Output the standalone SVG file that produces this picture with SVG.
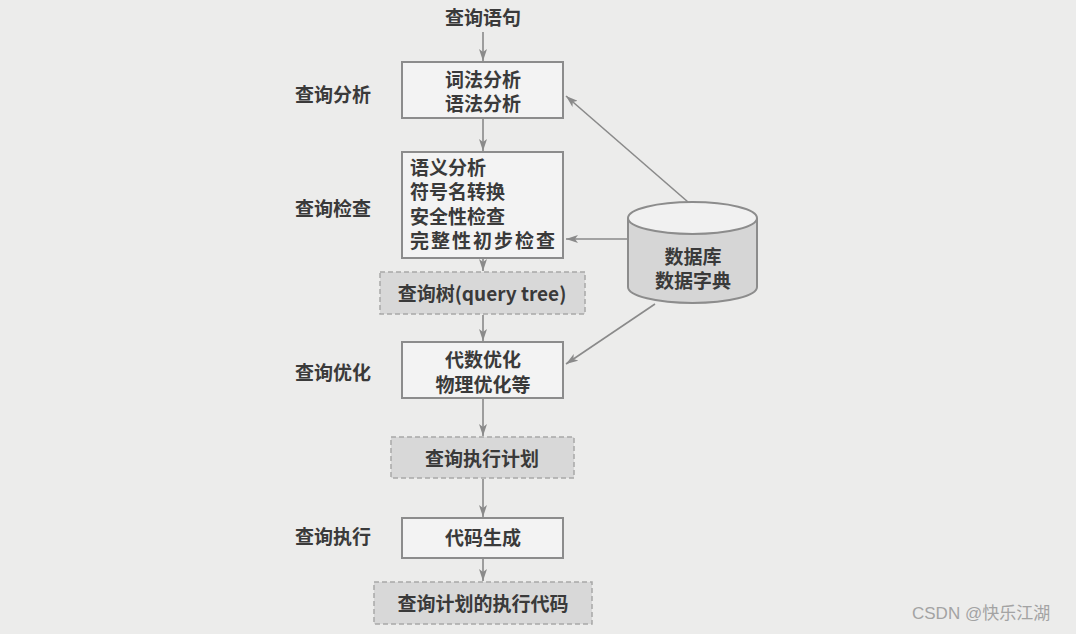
<svg xmlns="http://www.w3.org/2000/svg" width="1076" height="634" viewBox="0 0 1076 634">
<defs>
<style>
.t{font-family:"Noto Sans CJK SC","Noto Sans",sans-serif;font-size:19px;font-weight:700;fill:#3a3a3a}
.m{font-family:"Liberation Sans","Noto Sans CJK SC",sans-serif}
.tc{text-anchor:middle}
.box{fill:#f3f3f3;stroke:#8c8c8c;stroke-width:2}
.dbox{fill:#d8d8d8;stroke:#a8a8a8;stroke-width:1.5;stroke-dasharray:5 3}
.ln{stroke:#8a8a8a;stroke-width:1.6;fill:none}
.wm{font-family:"Liberation Sans","Noto Sans CJK SC",sans-serif;font-size:17px;fill:#a3a3a3}
</style>
<marker id="ah" viewBox="0 0 12 8" refX="12" refY="4" markerWidth="12" markerHeight="8" markerUnits="userSpaceOnUse" orient="auto">
<path d="M0,0 L12,4 L0,8 L3,4 Z" fill="#8a8a8a"/>
</marker>
</defs>
<rect width="1076" height="634" fill="#ececeb"/>

<g id="connectors">
<line class="ln" x1="483" y1="32" x2="483" y2="61" marker-end="url(#ah)"/>
<line class="ln" x1="483" y1="119" x2="483" y2="151" marker-end="url(#ah)"/>
<line class="ln" x1="483" y1="259" x2="483" y2="271" marker-end="url(#ah)"/>
<line class="ln" x1="483" y1="315" x2="483" y2="341" marker-end="url(#ah)"/>
<line class="ln" x1="483" y1="399" x2="483" y2="436" marker-end="url(#ah)"/>
<line class="ln" x1="483" y1="479" x2="483" y2="517" marker-end="url(#ah)"/>
<line class="ln" x1="483" y1="559" x2="483" y2="581" marker-end="url(#ah)"/>
<line class="ln" x1="688" y1="202" x2="566" y2="96" marker-end="url(#ah)"/>
<line class="ln" x1="628" y1="239" x2="566" y2="239" marker-end="url(#ah)"/>
<line class="ln" x1="655" y1="304" x2="566" y2="364" marker-end="url(#ah)"/>
</g>

<g id="start"><text class="t tc" x="483" y="25" font-size="20">查询语句</text></g>

<g id="lbl-analysis"><text class="t" x="295" y="102" font-size="20">查询分析</text></g>
<g id="lbl-check"><text class="t" x="295" y="216" font-size="20">查询检查</text></g>
<g id="lbl-opt"><text class="t" x="295" y="380" font-size="20">查询优化</text></g>
<g id="lbl-exec"><text class="t" x="295" y="544" font-size="20">查询执行</text></g>

<g id="box-lex">
<rect class="box" x="402" y="62" width="161" height="56"/>
<text class="t m tc" x="483" y="87">词法分析</text>
<text class="t m tc" x="483" y="111">语法分析</text>
</g>

<g id="box-sem">
<rect class="box" x="402" y="152" width="161" height="106"/>
<text class="t m" x="410" y="175">语义分析</text>
<text class="t m" x="410" y="199">符号名转换</text>
<text class="t m" x="410" y="224">安全性检查</text>
<text class="t m" x="410" y="248" letter-spacing="2">完整性初步检查</text>
</g>

<g id="box-tree">
<rect class="dbox" x="380" y="272" width="205" height="42"/>
<text class="t tc" x="482" y="301" font-weight="500">查询树(query tree)</text>
</g>

<g id="box-opt">
<rect class="box" x="402" y="342" width="161" height="56"/>
<text class="t m tc" x="483" y="367">代数优化</text>
<text class="t m tc" x="483" y="392">物理优化等</text>
</g>

<g id="box-plan">
<rect class="dbox" x="391" y="437" width="183" height="41"/>
<text class="t tc" x="482" y="466">查询执行计划</text>
</g>

<g id="box-gen">
<rect class="box" x="402" y="518" width="161" height="40"/>
<text class="t tc" x="483" y="545">代码生成</text>
</g>

<g id="box-code">
<rect class="dbox" x="374" y="582" width="218" height="42"/>
<text class="t tc" x="483" y="611">查询计划的执行代码</text>
</g>

<g id="db">
<path d="M628,218 L628,287 A64.5,16 0 0 0 757,287 L757,218" fill="#d6d6d6" stroke="#8c8c8c" stroke-width="2"/>
<ellipse cx="692.5" cy="218" rx="64.5" ry="16" fill="#f1f1f1" stroke="#8c8c8c" stroke-width="2"/>
<text class="t m tc" x="693" y="264">数据库</text>
<text class="t m tc" x="693" y="288">数据字典</text>
</g>

<text class="wm" x="912" y="619">CSDN @快乐江湖</text>
</svg>
